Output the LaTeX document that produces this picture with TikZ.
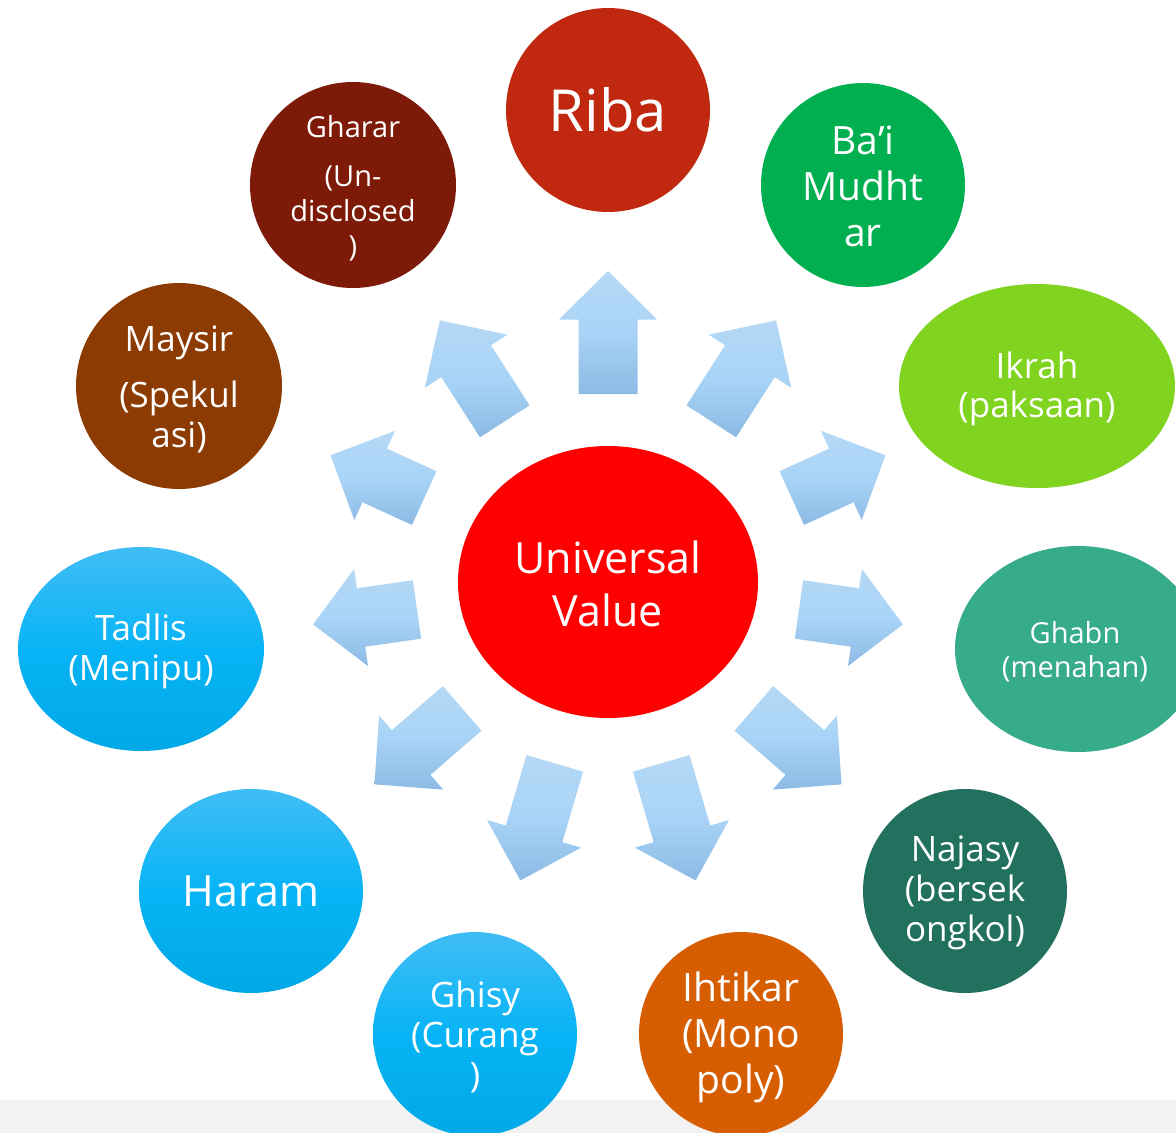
\documentclass[tikz,border=0pt]{standalone}
\usepackage{fontspec}
\setmainfont{Open Sans}
\usetikzlibrary{shapes.geometric,calc}
\definecolor{cRiba}{HTML}{C0280F}
\definecolor{cBai}{HTML}{00B050}
\definecolor{cIkrah}{HTML}{80D31E}
\definecolor{cGhabn}{HTML}{36AC8B}
\definecolor{cNajasy}{HTML}{22715E}
\definecolor{cIhtikar}{HTML}{D65D00}
\definecolor{cMaysir}{HTML}{8C3B02}
\definecolor{cGharar}{HTML}{7D1B08}
\definecolor{cUV}{HTML}{FF0000}
\definecolor{blueTop}{HTML}{40BDF5}
\definecolor{blueMid}{HTML}{08B4F6}
\definecolor{blueBot}{HTML}{00A8E6}
\definecolor{arTop}{HTML}{B5D8F5}
\definecolor{arMid}{HTML}{A9D4F7}
\definecolor{arBot}{HTML}{8CBAE4}
\definecolor{strip}{HTML}{F2F2F2}
\newcommand\fsz[2]{\fontsize{#1}{#2}\selectfont}
\tikzset{
  sat/.style={ellipse, draw=none, inner sep=0pt, minimum width=#1},
  circ/.style={ellipse, draw=none, inner sep=0pt, minimum width=#1, minimum height=#1},
  bluegrad/.style={top color=blueTop, bottom color=blueBot, middle color=blueMid},
  lbl/.style={text=white, align=center, inner sep=0pt},
  arrowfill/.style={top color=arTop, bottom color=arBot, middle color=arMid, draw=none}
}
\begin{document}
\begin{tikzpicture}[x=1pt,y=1pt]
\useasboundingbox (0,0) rectangle (1176,-1133);
\fill[white] (0,0) rectangle (1176,-1133);
\fill[strip] (0,-1100) rectangle (1176,-1133);

% centre
\node[ellipse, inner sep=0pt, minimum width=300, minimum height=272, fill=cUV] (uv) at (608,-582) {};
\node[lbl, font=\fsz{43}{53}] (uvt) at (608,-584) {Universal\\Value};

% satellites
\node[circ=204, fill=cRiba] (riba) at (608,-110) {};
\node[lbl, font=\fsz{58}{70}] (ribat) at (608,-110) {Riba};

\node[circ=204, fill=cBai] (bai) at (863,-185) {};
\node[lbl, font=\fsz{39}{46}] (bait) at (863,-186) {Ba’i\\Mudht\\ar};

\node[ellipse, inner sep=0pt, minimum width=276, minimum height=204, fill=cIkrah] (ikrah) at (1037,-386) {};
\node[lbl, font=\fsz{35}{39}] (ikraht) at (1037,-389) {Ikrah\\(paksaan)};

\node[ellipse, inner sep=0pt, minimum width=246, minimum height=206, fill=cGhabn] (ghabn) at (1078,-649) {};
\node[lbl, font=\fsz{29}{34}] (ghabnt) at (1075,-652) {Ghabn\\(menahan)};

\node[circ=204, fill=cNajasy] (najasy) at (965,-891) {};
\node[lbl, font=\fsz{35}{40}] (najasyt) at (965,-893) {Najasy\\(bersek\\ongkol)};

\node[circ=204, fill=cIhtikar] (ihtikar) at (741,-1034) {};
\node[lbl, font=\fsz{39}{46}] (ihtikart) at (741,-1037) {Ihtikar\\(Mono\\poly)};

\node[circ=204, bluegrad] (ghisy) at (475,-1034) {};
\node[lbl, font=\fsz{35}{40}] (ghisyt) at (475,-1037) {Ghisy\\(Curang\\)};

\node[ellipse, inner sep=0pt, minimum width=224, minimum height=204, bluegrad] (haram) at (251,-891) {};
\node[lbl, font=\fsz{43}{50}] (haramt) at (251,-891) {Haram};

\node[ellipse, inner sep=0pt, minimum width=246, minimum height=204, bluegrad] (tadlis) at (141,-649) {};
\node[lbl, font=\fsz{35}{40}] (tadlist) at (141,-651) {Tadlis\\(Menipu)};

\node[circ=206, fill=cMaysir] (maysir) at (179,-386) {};
\node[lbl, font=\fsz{35}{40}] (maysirt) at (179,-389) {Maysir\\[16pt](Spekul\\asi)};

\node[circ=206, fill=cGharar] (gharar) at (353,-185) {};
\node[lbl, font=\fsz{29}{35}] (ghatart) at (353,-188) {Gharar\\[14pt](Un-\\disclosed\\)};

% arrows
\foreach \k/\b/\t in {0/188/311, 1/191/311, 2/202/305, 3/193/298, 4/193/309, 5/189/311,
                     6/189/311, 7/193/309, 8/193/298, 9/202/305, 10/191/311} {
  \pgfmathsetmacro\a{90-\k*32.7272727}
  \pgfmathsetmacro\ap{\a+90}
  \pgfmathsetmacro\am{\a-90}
  \pgfmathsetmacro\j{\t-48.5}
  \path[arrowfill]
    ($(uv.center)+(\a:\b)+(\ap:29.5)$) --
    ($(uv.center)+(\a:\j)+(\ap:29.5)$) --
    ($(uv.center)+(\a:\j)+(\ap:49)$) --
    ($(uv.center)+(\a:\t)$) --
    ($(uv.center)+(\a:\j)+(\am:49)$) --
    ($(uv.center)+(\a:\j)+(\am:29.5)$) --
    ($(uv.center)+(\a:\b)+(\am:29.5)$) -- cycle;
}
\end{tikzpicture}
\end{document}
